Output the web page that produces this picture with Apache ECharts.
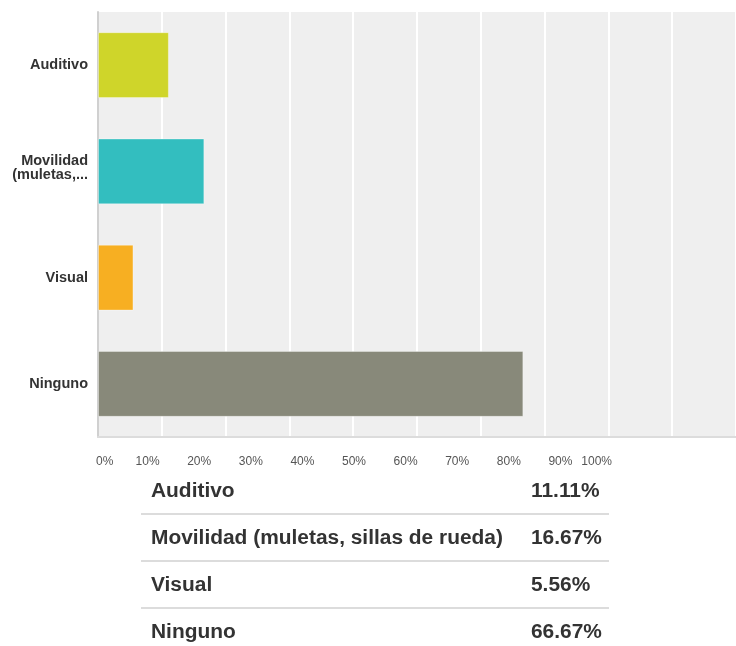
<!DOCTYPE html>
<html>
<head>
<meta charset="utf-8">
<script src="https://cdn.jsdelivr.net/npm/echarts@6/dist/echarts.min.js"></script>
<style>html,body{margin:0;padding:0;background:#fff}#c{width:736px;height:646px}</style>
</head>
<body>
<div id="c"></div>
<script>
const categories = ['Auditivo', 'Movilidad\n(muletas,...', 'Visual', 'Ninguno'];
const tableLabels = ['Auditivo', 'Movilidad (muletas, sillas de rueda)', 'Visual', 'Ninguno'];
const values = [11.11, 16.67, 5.56, 66.67];
const valueLabels = ['11.11%', '16.67%', '5.56%', '66.67%'];
const colors = ['#cfd52a', '#33bebf', '#f7af22', '#88897a'];
const tickValues = [0, 10, 20, 30, 40, 50, 60, 70, 80, 90, 100];

const chart = echarts.init(document.getElementById('c'));
const font = '"Liberation Sans", Arial, sans-serif';

const graphics = [];
const rowY0 = 491, rowStep = 47;
tableLabels.forEach((t, i) => {
  const y = rowY0 + i * rowStep;
  graphics.push({type: 'text', x: 151, y: y, style: {text: t, font: 'bold 20px ' + font, fill: '#333', verticalAlign: 'middle'}, scaleX: 1.045});
  graphics.push({type: 'text', x: 531, y: y, style: {text: valueLabels[i], font: 'bold 20px ' + font, fill: '#333', verticalAlign: 'middle'}, scaleX: 1.045});
  if (i < tableLabels.length - 1) {
    graphics.push({type: 'rect', shape: {x: 141, y: y + 22, width: 468, height: 2}, style: {fill: '#dcdcdc'}});
  }
});

chart.setOption({
  animation: false,
  grid: [
    {left: 98, top: 12, width: 638, height: 425, show: true, backgroundColor: '#efefef', borderWidth: 0},
    {left: 96, top: 436, width: 516, height: 1, show: false}
  ],
  xAxis: [
    {type: 'value', gridIndex: 0, min: 0, max: 100, interval: 10,
     axisLine: {show: true, lineStyle: {color: '#dcdcdc', width: 2}},
     axisTick: {show: false}, axisLabel: {show: false},
     splitLine: {show: true, lineStyle: {color: '#ffffff', width: 2}}},
    {type: 'value', gridIndex: 1, min: 0, max: 100, interval: 10, position: 'bottom',
     axisLine: {show: false}, axisTick: {show: false}, splitLine: {show: false},
     axisLabel: {show: true, margin: 19, color: '#555', fontSize: 12, fontFamily: font,
       alignMinLabel: 'left', alignMaxLabel: 'right',
       formatter: v => tickValues.includes(v) ? v + '%' : ''}}
  ],
  yAxis: [
    {type: 'category', gridIndex: 0, data: categories, inverse: true,
     axisLine: {show: true, lineStyle: {color: '#d0d0d0', width: 2}},
     axisTick: {show: false},
     axisLabel: {margin: 10, color: '#333', fontWeight: 'bold', fontSize: 14.5, fontFamily: font, lineHeight: 14, align: 'right',
       formatter: v => v.indexOf('\n') >= 0 ? v + '\n{s| }' : v,
       rich: {s: {lineHeight: 7, fontSize: 6}}}},
    {type: 'value', gridIndex: 1, show: false, min: 0, max: 1}
  ],
  series: [{
    type: 'bar', xAxisIndex: 0, yAxisIndex: 0,
    barWidth: '62%',
    data: values.map((v, i) => ({value: v, itemStyle: {color: colors[i], borderColor: 'rgba(255,255,255,0.35)', borderWidth: 1}}))
  }],
  graphic: graphics
});
</script>
</body>
</html>
